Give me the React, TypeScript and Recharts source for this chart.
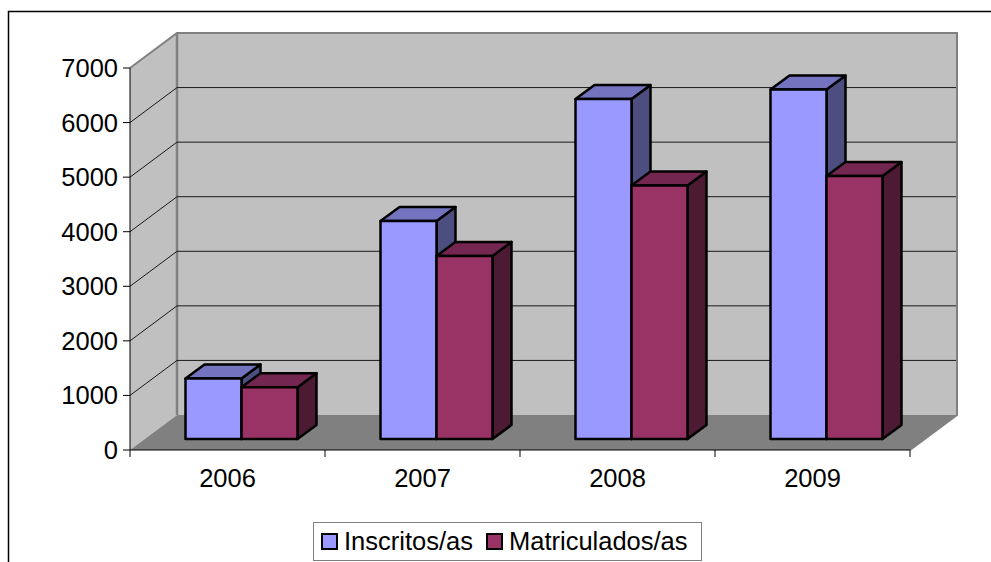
import React from 'react';
import { BarChart, Bar, XAxis, YAxis, CartesianGrid, Legend } from 'recharts';

const years = ['2006', '2007', '2008', '2009'];
const inscritos = [1110, 3995, 6230, 6405];
const matriculados = [950, 3355, 4645, 4820];
const yTicks = [0, 1000, 2000, 3000, 4000, 5000, 6000, 7000];

const chartData = years.map((year, i) => ({
  year,
  'Inscritos/as': inscritos[i],
  'Matriculados/as': matriculados[i],
}));

const FONT = '"Liberation Sans", Arial, sans-serif';
const FONT_SIZE = 25.5;
const WIDTH = 991;
const HEIGHT = 562;
const X_AXIS_HEIGHT = 30;
const MARGIN = { top: 68, right: 81, bottom: 112 - X_AXIS_HEIGHT, left: 0 };
const AXIS_WIDTH = 130;

// plot area corners, the walls hang off these
const LEFT = AXIS_WIDTH;
const RIGHT = WIDTH - MARGIN.right;
const TOP = MARGIN.top;
const BOTTOM = 450;

// depth of the room and of the boxes
const WALL_DX = 47;
const WALL_DY = -35;
const BAR_SHIFT_X = 13.5;
const BAR_SHIFT_Y = -11;
const BOX_DX = 19;
const BOX_DY = -14;

const BLUE = { front: '#9999FF', top: '#7373BF', side: '#4D4D80' };
const MAROON = { front: '#993366', top: '#732650', side: '#4D1A33' };

// sits underneath the chart, the chart svg itself is transparent
const Walls = () => (
  <svg width={WIDTH} height={HEIGHT} style={{ position: 'absolute', left: 0, top: 0 }}>
    <path d={`M8.5 ${HEIGHT} V11.5 H${WIDTH}`} fill="none" stroke="#000" strokeWidth={1.5} />
    <polygon
      points={`${LEFT},${TOP} ${LEFT + WALL_DX},${TOP + WALL_DY} ${LEFT + WALL_DX},${BOTTOM + WALL_DY} ${LEFT},${BOTTOM}`}
      fill="#C0C0C0"
    />
    <rect
      x={LEFT + WALL_DX}
      y={TOP + WALL_DY}
      width={RIGHT - LEFT}
      height={BOTTOM - TOP}
      fill="#C0C0C0"
    />
    <polygon
      points={`${LEFT},${BOTTOM} ${LEFT + WALL_DX},${BOTTOM + WALL_DY} ${RIGHT + WALL_DX},${BOTTOM + WALL_DY} ${RIGHT},${BOTTOM}`}
      fill="#808080"
    />
    <path
      d={`M${LEFT} ${TOP} L${LEFT + WALL_DX} ${TOP + WALL_DY} H${RIGHT + WALL_DX} V${BOTTOM + WALL_DY} L${RIGHT} ${BOTTOM}`}
      fill="none"
      stroke="#808080"
      strokeWidth={2}
    />
    <path
      d={`M${LEFT + WALL_DX} ${TOP + WALL_DY} V${BOTTOM + WALL_DY}`}
      fill="none"
      stroke="#808080"
      strokeWidth={2.5}
    />
  </svg>
);

// one grid line runs along the back wall and down the left wall
const GridLine = (props: any) => {
  const { y1 } = props;
  if (y1 === TOP || y1 === BOTTOM) return <g />;
  return (
    <path
      d={`M${LEFT} ${y1} L${LEFT + WALL_DX} ${y1 + WALL_DY} H${RIGHT + WALL_DX - 1}`}
      fill="none"
      stroke="#1a1a1a"
      strokeWidth={1}
    />
  );
};

const makeBox = (colors: typeof BLUE) => (props: any) => {
  const x = props.x + BAR_SHIFT_X;
  const y = props.y + BAR_SHIFT_Y;
  const w = props.width;
  const h = props.height;
  const line = { stroke: '#000', strokeWidth: 2.5, strokeLinejoin: 'round' as const };
  return (
    <g>
      <polygon
        points={`${x + w},${y} ${x + w + BOX_DX},${y + BOX_DY} ${x + w + BOX_DX},${y + h + BOX_DY} ${x + w},${y + h}`}
        fill={colors.side}
        {...line}
      />
      <polygon
        points={`${x},${y} ${x + BOX_DX},${y + BOX_DY} ${x + w + BOX_DX},${y + BOX_DY} ${x + w},${y}`}
        fill={colors.top}
        {...line}
      />
      <rect x={x} y={y} width={w} height={h} fill={colors.front} {...line} />
    </g>
  );
};

// category ticks sit between the years, labels in the middle
const YearTick = (props: any) => {
  const { x, payload, index } = props;
  const band = (RIGHT - LEFT) / years.length;
  const isLast = index === years.length - 1;
  return (
    <g>
      <line x1={x - band / 2} x2={x - band / 2} y1={BOTTOM} y2={BOTTOM + 7} stroke="#000" />
      {isLast && <line x1={x + band / 2} x2={x + band / 2} y1={BOTTOM} y2={BOTTOM + 7} stroke="#000" />}
      <text x={x} y={BOTTOM + 37} textAnchor="middle" fontSize={FONT_SIZE} fontFamily={FONT} fill="#000">
        {payload.value}
      </text>
    </g>
  );
};

const LegendBox = ({ payload }: any) => (
  <div
    style={{
      display: 'flex',
      alignItems: 'center',
      height: 39,
      boxSizing: 'border-box',
      border: '1px solid #808080',
      paddingLeft: 7,
      fontFamily: FONT,
      fontSize: FONT_SIZE,
      color: '#000',
      whiteSpace: 'nowrap',
    }}
  >
    {(payload || []).map((item: any) => (
      <span key={item.value} style={{ display: 'flex', alignItems: 'center', marginRight: 13 }}>
        <span
          style={{
            display: 'inline-block',
            width: 13,
            height: 13,
            background: item.color,
            border: '2px solid #000',
            marginRight: 6,
          }}
        />
        {item.value}
      </span>
    ))}
  </div>
);

const App: React.FC = () => (
  <div style={{ position: 'absolute', left: 0, top: 0, width: WIDTH, height: HEIGHT, background: '#fff' }}>
    <Walls />
    <BarChart
      width={WIDTH}
      height={HEIGHT}
      data={chartData}
      margin={MARGIN}
      barSize={56}
      barGap={0}
      style={{ fontFamily: FONT, position: 'absolute', left: 0, top: 0 }}
    >
      <CartesianGrid vertical={false} horizontal={<GridLine />} />
      <XAxis
        dataKey="year"
        height={X_AXIS_HEIGHT}
        tickLine={false}
        interval={0}
        tick={<YearTick />}
        axisLine={{ stroke: '#000', strokeWidth: 1 }}
      />
      <YAxis
        width={AXIS_WIDTH}
        domain={[0, 7000]}
        ticks={yTicks}
        interval={0}
        tickSize={7}
        tickMargin={5}
        tick={{ fontSize: FONT_SIZE, fontFamily: FONT, fill: '#000' }}
        tickLine={{ stroke: '#000' }}
        axisLine={{ stroke: '#000', strokeWidth: 1 }}
      />
      <Legend
        layout="horizontal"
        verticalAlign="middle"
        align="center"
        content={<LegendBox />}
        wrapperStyle={{ position: 'absolute', left: 313, top: 522, width: 389, height: 39 }}
      />
      <Bar dataKey="Inscritos/as" fill={BLUE.front} shape={makeBox(BLUE)} isAnimationActive={false} />
      <Bar dataKey="Matriculados/as" fill={MAROON.front} shape={makeBox(MAROON)} isAnimationActive={false} />
    </BarChart>
  </div>
);

export default App;
